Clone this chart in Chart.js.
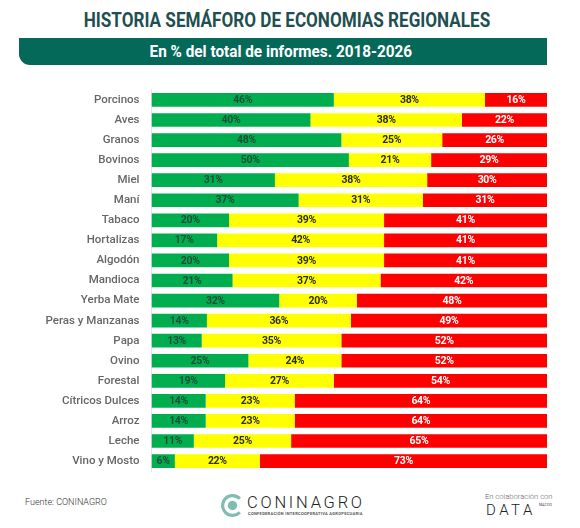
<!DOCTYPE html>
<html>
<head>
<meta charset="utf-8">
<style>
    html, body { margin: 0; padding: 0; background: #fff; }
    #page { position: relative; width: 580px; height: 528px; overflow: hidden; font-family: "Roboto", sans-serif; }
    #title { position: absolute; left: 0; width: 574px; top: 8px; text-align: center; font-size: 20px; font-weight: 700; color: #1f5050; white-space: nowrap; transform: scaleX(0.855); }
    #band { position: absolute; left: 19px; top: 38px; width: 528px; height: 27px; background: #05695a; border-bottom-left-radius: 11px; color: #fff; text-align: center; font-size: 17px; font-weight: 700; line-height: 27px; }
    #band span { display: inline-block; position: relative; left: -2px; transform: scaleX(0.9); }
    #chartBox { position: absolute; left: 0; top: 71px; width: 580px; height: 419px; }
    #source { position: absolute; left: 25px; top: 497px; font-size: 9px; font-weight: 300; color: #333; }
    #logo { position: absolute; left: 221px; top: 494px; width: 23px; height: 23px; }
    #brand { position: absolute; left: 247px; top: 493px; font-size: 16.5px; font-weight: 300; color: #222; letter-spacing: 2.75px; }
    #brandSub { position: absolute; left: 248px; top: 511px; font-size: 4px; font-weight: 700; color: #555; letter-spacing: 0.3px; white-space: nowrap; }
    #collab { position: absolute; left: 485px; top: 492px; font-size: 7.6px; font-weight: 300; color: #666; }
    #data { position: absolute; left: 486px; top: 501px; font-size: 15px; font-weight: 300; color: #222; letter-spacing: 3.5px; }
    #dataSup { position: absolute; left: 539px; top: 503px; font-size: 3.5px; color: #444; }
</style>
</head>
<body>
<div id="page">
    <div id="title">HISTORIA SEMÁFORO DE ECONOMIAS REGIONALES</div>
    <div id="band"><span>En % del total de informes. 2018-2026</span></div>
    <div id="chartBox"><canvas id="chart" width="580" height="419"></canvas></div>
    <div id="source">Fuente: CONINAGRO</div>
    <svg id="logo" viewBox="0 0 22 22">
        <path d="M18 4.5 A9.5 9.5 0 1 0 18 17.5" fill="none" stroke="#7fbdb3" stroke-width="3"/>
        <circle cx="11" cy="11" r="4.5" fill="#7fbdb3"/>
    </svg>
    <div id="brand">CONINAGRO</div>
    <div id="brandSub">CONFEDERACIÓN INTERCOOPERATIVA AGROPECUARIA</div>
    <div id="collab">En colaboración con</div>
    <div id="data">DATA</div>
    <div id="dataSup">MAZZIO</div>
</div>
<script src="https://cdn.jsdelivr.net/npm/chart.js@4"></script>
<script>
const categories = ["Porcinos", "Aves", "Granos", "Bovinos", "Miel", "Maní", "Tabaco", "Hortalizas", "Algodón", "Mandioca", "Yerba Mate", "Peras y Manzanas", "Papa", "Ovino", "Forestal", "Cítricos Dulces", "Arroz", "Leche", "Vino y Mosto"];

const verde = [46.1, 40.2, 48.0, 49.9, 31.2, 37.2, 19.6, 16.6, 19.6, 20.5, 32.3, 14.0, 12.7, 24.5, 18.6, 13.7, 13.7, 10.7, 5.9];
const amarillo = [38.2, 38.3, 25.5, 20.8, 38.5, 31.4, 39.2, 42.2, 39.2, 37.4, 19.6, 36.4, 35.3, 23.5, 27.5, 22.5, 22.5, 24.6, 21.5];
const rojo = [15.7, 21.5, 26.5, 29.3, 30.3, 31.4, 41.2, 41.2, 41.2, 42.1, 48.1, 49.6, 52.0, 52.0, 53.9, 63.8, 63.8, 64.7, 72.6];

// etiquetas impresas en el original
const verdeLabels = [46, 40, 48, 50, 31, 37, 20, 17, 20, 21, 32, 14, 13, 25, 19, 14, 14, 11, 6];
const amarilloLabels = [38, 38, 25, 21, 38, 31, 39, 42, 39, 37, 20, 36, 35, 24, 27, 23, 23, 25, 22];
const rojoLabels = [16, 22, 26, 29, 30, 31, 41, 41, 41, 42, 48, 49, 52, 52, 54, 64, 64, 65, 73];

const barLabels = {
    id: "barLabels",
    afterDatasetsDraw(chart) {
        const ctx = chart.ctx;
        ctx.save();
        ctx.font = "700 10.5px Roboto";
        ctx.letterSpacing = "-0.3px";
        ctx.textAlign = "center";
        ctx.textBaseline = "middle";
        chart.data.datasets.forEach((ds, d) => {
            chart.getDatasetMeta(d).data.forEach((bar, i) => {
                ctx.fillStyle = ds.labelColor;
                const mid = (bar.x + bar.base) / 2;
                ctx.fillText(ds.printed[i] + "%", mid, bar.y + 0.5);
            });
        });
        ctx.restore();
    }
};

new Chart(document.getElementById("chart"), {
    type: "bar",
    data: {
        labels: categories,
        datasets: [
            { data: verde, printed: verdeLabels, backgroundColor: "#00ae4f", labelColor: "#1c4f38" },
            { data: amarillo, printed: amarilloLabels, backgroundColor: "#ffff00", labelColor: "#2e2e20" },
            { data: rojo, printed: rojoLabels, backgroundColor: "#fe0000", labelColor: "#ffffff" }
        ]
    },
    options: {
        indexAxis: "y",
        responsive: false,
        animation: false,
        categoryPercentage: 1,
        barPercentage: 0.68,
        layout: { padding: { left: 0, right: 33, top: 4, bottom: 2 } },
        scales: {
            x: { stacked: true, min: 0, max: 100, display: false },
            y: {
                stacked: true,
                afterFit(axis) { axis.width = 151.5; },
                grid: { display: false, drawTicks: false },
                border: { color: "#e6e6e6" },
                ticks: { color: "#666", padding: 12, autoSkip: false, font: { family: "Roboto", size: 11.5, weight: "500" } }
            }
        },
        plugins: { legend: { display: false }, tooltip: { enabled: false } }
    },
    plugins: [barLabels]
});
</script>
</body>
</html>
